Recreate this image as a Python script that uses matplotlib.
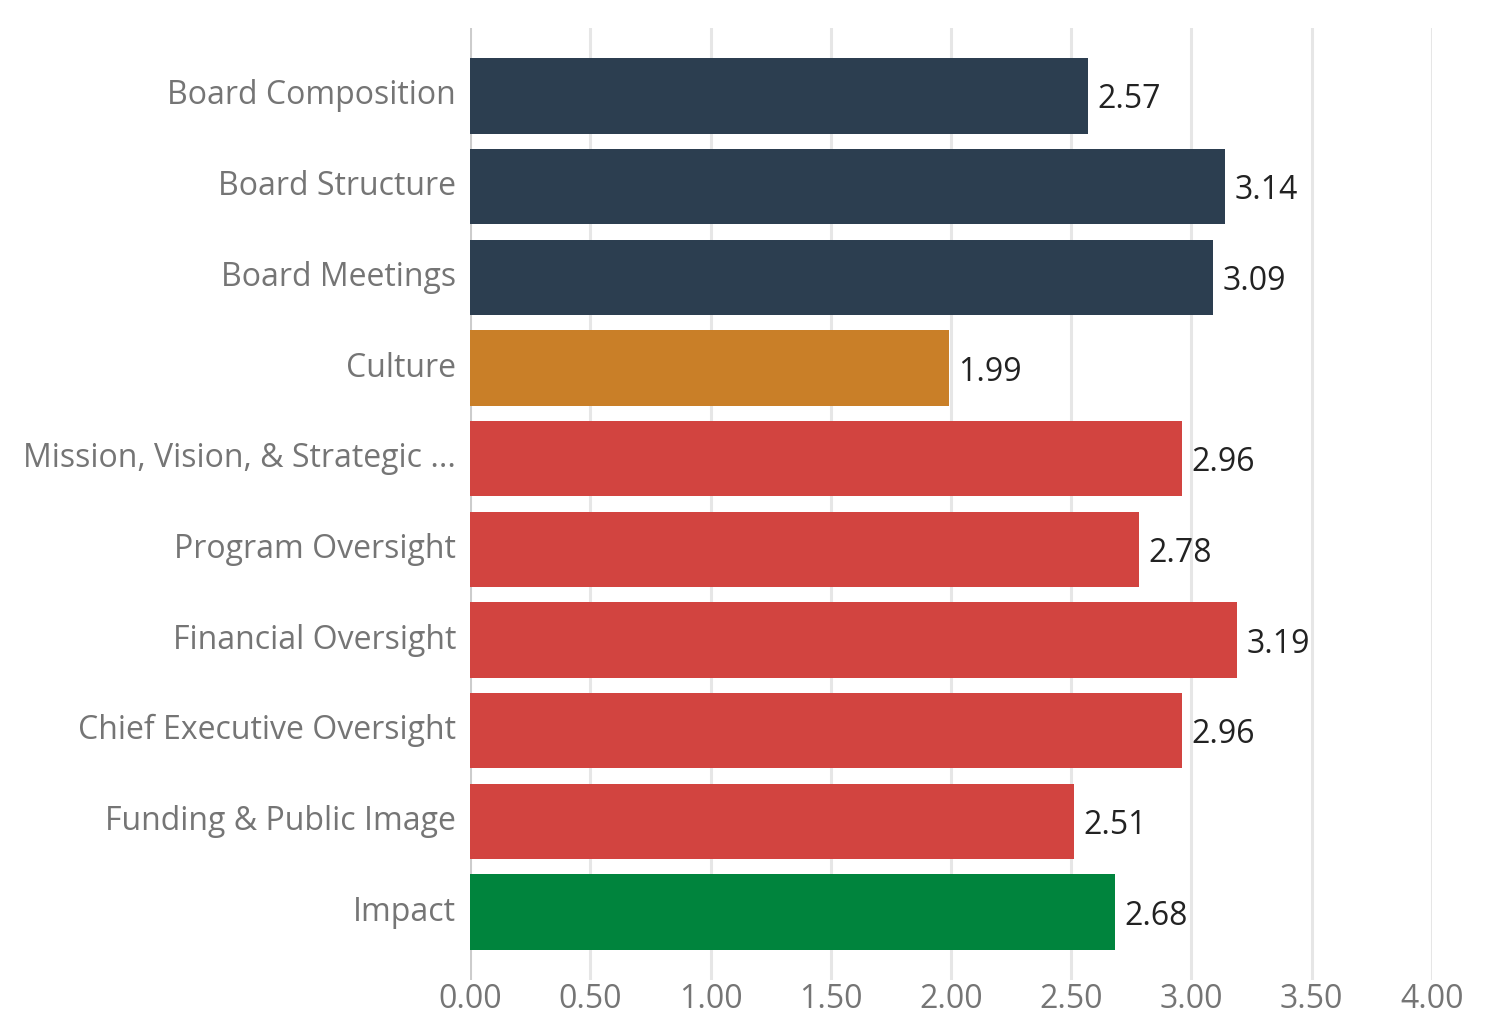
import numpy as np
import matplotlib
matplotlib.use("Agg")
import matplotlib.pyplot as plt

plt.rcParams['font.family'] = ['Open Sans', 'DejaVu Sans']

# Assessment scores by governance area
categories = ["Board Composition", "Board Structure", "Board Meetings", "Culture",
              "Mission, Vision, & Strategic ...", "Program Oversight",
              "Financial Oversight", "Chief Executive Oversight",
              "Funding & Public Image", "Impact"]
scores = [2.57, 3.14, 3.09, 1.99, 2.96, 2.78, 3.19, 2.96, 2.51, 2.68]
groups = ["board", "board", "board", "culture", "oversight", "oversight",
          "oversight", "oversight", "oversight", "impact"]
x_ticks = [0.0, 0.5, 1.0, 1.5, 2.0, 2.5, 3.0, 3.5, 4.0]

GROUP_COLORS = {
    "board": "#2c3e50",
    "culture": "#c97f28",
    "oversight": "#d24440",
    "impact": "#00843d",
}

fig = plt.figure(figsize=(14.96, 10.14), dpi=100, facecolor='white')
ax = fig.add_axes([0.3142, 0.0335, 0.6430, 0.9389])

y = np.arange(len(categories))
colors = [GROUP_COLORS[g] for g in groups]
ax.barh(y, scores, height=0.83, color=colors, zorder=3)

for yi, v in zip(y, scores):
    ax.annotate(f"{v:.2f}", (v, yi), xytext=(7, 0), textcoords='offset points',
                ha='left', va='center_baseline', fontsize=23, color='#222222')

ax.set_xlim(0, 4)
ax.set_ylim(len(categories) - 0.25, -0.75)

ax.set_xticks(x_ticks)
ax.set_xticklabels([f"{t:.2f}" for t in x_ticks])
ax.set_yticks(y)
ax.set_yticklabels(categories, va='center')

# vertical grid, zero line a bit darker
for t in x_ticks:
    ax.axvline(t, color='#cccccc' if t == 0 else '#e6e6e6', lw=2.2, zorder=1)

for s in ax.spines.values():
    s.set_visible(False)
ax.tick_params(axis='both', length=0, labelsize=23, colors='#757575')
ax.tick_params(axis='y', pad=10)
ax.tick_params(axis='x', pad=2)

fig.savefig("out.png", dpi=100, facecolor='white')
